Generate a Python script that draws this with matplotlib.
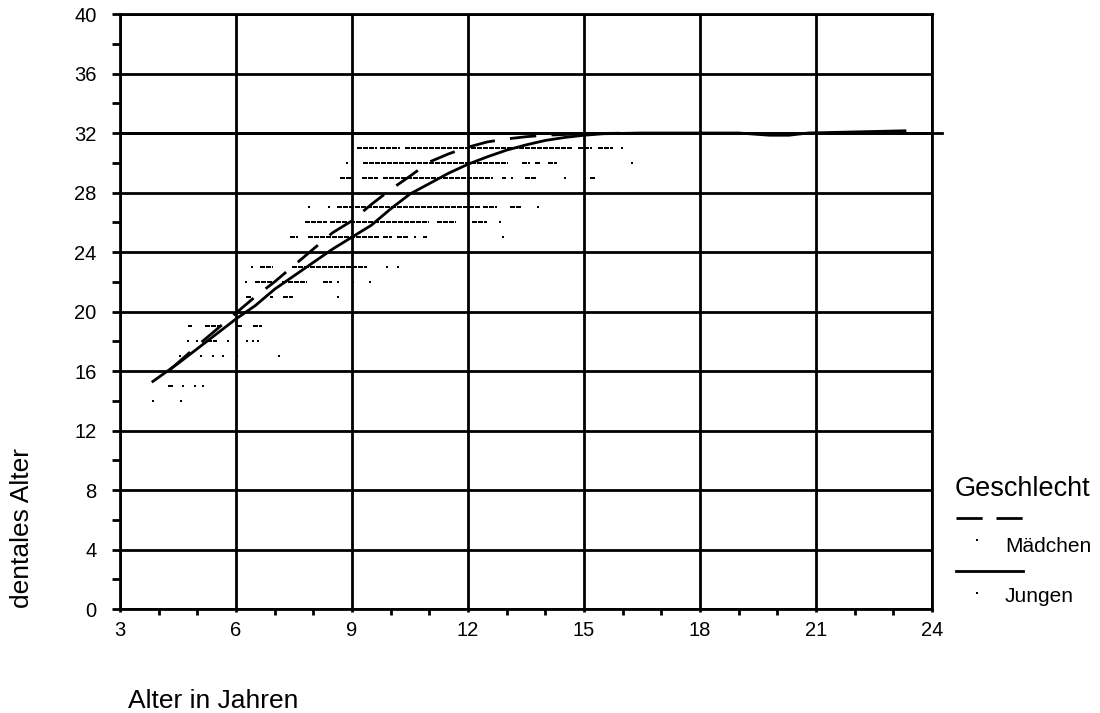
import matplotlib
matplotlib.use("Agg")
import matplotlib.pyplot as plt
from matplotlib.lines import Line2D
from matplotlib.ticker import MultipleLocator

plt.rcParams['font.family'] = ['Liberation Sans', 'DejaVu Sans']

# mittlere Kurven: dentales Alter ueber Lebensalter
maedchen_x = [4.3, 5.0, 5.5, 6.0, 6.5, 7.0, 7.5, 8.0, 8.5, 9.0, 9.5, 10.0, 10.5,
              11.0, 11.5, 12.0, 12.5, 13.0, 13.5, 14.0, 15.0, 16.3]
maedchen_y = [16.1, 17.7, 18.8, 19.9, 21.0, 22.0, 23.1, 24.2, 25.3, 26.1, 27.2, 28.2, 29.1,
              30.05, 30.6, 31.05, 31.4, 31.6, 31.75, 31.85, 31.95, 32.0]

jungen_x = [3.85, 4.5, 5.0, 5.5, 6.0, 6.5, 7.0, 7.5, 8.0, 8.5, 9.0, 9.5, 10.0, 10.5,
            11.0, 11.5, 12.0, 12.5, 13.0, 13.5, 14.0, 14.5, 15.0, 15.5, 16.5, 19.0,
            19.8, 20.3, 20.8, 23.3]
jungen_y = [15.3, 16.5, 17.5, 18.5, 19.5, 20.4, 21.5, 22.4, 23.3, 24.2, 25.0, 25.8, 26.9, 27.9,
            28.6, 29.3, 29.9, 30.4, 30.85, 31.2, 31.5, 31.7, 31.85, 31.95, 32.0, 32.0,
            31.85, 31.85, 32.0, 32.15]

# Einzelwerte: je dentalem Alter die Bereiche (von, bis) in Jahren, in denen Punkte liegen
dot_levels = [14, 15, 17, 18, 19, 21, 22, 23, 25, 26, 27, 29, 30, 31]
dot_runs = [
    [(3.85, 3.85), (4.58, 4.58)],
    [(4.24, 4.37), (4.63, 4.63), (4.94, 4.94), (5.15, 5.15)],
    [(4.55, 4.55), (5.1, 5.1), (5.4, 5.4), (5.66, 5.66), (6.03, 6.03), (7.1, 7.1)],
    [(4.76, 4.76), (4.99, 4.99), (5.25, 5.5), (5.8, 5.8), (6.28, 6.28), (6.44, 6.44), (6.57, 6.57)],
    [(4.76, 4.86), (5.2, 5.66), (6.03, 6.18), (6.44, 6.67)],
    [(6.26, 6.41), (6.88, 6.96), (7.21, 7.47), (8.64, 8.64)],
    [(6.26, 6.26), (6.49, 7.0), (7.19, 7.83), (8.25, 8.48), (8.64, 8.64), (9.03, 9.03), (9.47, 9.47)],
    [(6.41, 6.41), (6.62, 6.96), (7.45, 9.39), (9.9, 9.9), (10.19, 10.19)],
    [(7.4, 7.6), (7.86, 9.72), (9.8, 10.03), (10.16, 10.45), (10.63, 10.63), (10.84, 10.94), (12.9, 12.9)],
    [(7.78, 8.35), (8.43, 8.9), (8.95, 11.0), (11.2, 11.7), (12.1, 12.5), (12.83, 12.83)],
    [(7.89, 7.89), (8.4, 8.4), (8.61, 12.3), (12.4, 12.75), (13.08, 13.4), (13.8, 13.8)],
    [(8.69, 9.0), (9.26, 9.67), (9.8, 12.65), (12.87, 12.97), (13.15, 13.15), (13.47, 13.78),
     (14.5, 14.5), (15.15, 15.28)],
    [(8.87, 8.87), (9.28, 13.03), (13.4, 13.6), (13.73, 13.9), (14.07, 14.3), (16.24, 16.24)],
    [(9.13, 9.65), (9.72, 10.24), (10.37, 14.7), (14.85, 15.2), (15.35, 15.75), (15.95, 16.0)],
]

x_ticks = [3, 6, 9, 12, 15, 18, 21, 24]
y_ticks = [0, 4, 8, 12, 16, 20, 24, 28, 32, 36, 40]
ref_level = 32

fig = plt.figure(figsize=(11, 7.13), dpi=100)
ax = fig.add_axes([0.10909, 0.14586, 0.73818, 0.83450])

# Punkte (ohne Kantenglaettung, damit sie schwarz bleiben)
for lev, runs in zip(dot_levels, dot_runs):
    for x0, x1 in runs:
        if x0 == x1:
            ax.plot([x0], [lev], 's', color='k', ms=1.8, mew=0, antialiased=False)
        else:
            ax.plot([x0, x1], [lev, lev], color='k', lw=1.6, antialiased=False,
                    linestyle=(0, (2.2, 0.6)), solid_capstyle='butt')

ax.plot(maedchen_x, maedchen_y, color='k', lw=2.0, dashes=(9.5, 5.5))
ax.plot(jungen_x, jungen_y, color='k', lw=2.0)

# Linie bei 32 ragt etwas ueber den Rahmen hinaus
ax.plot([x_ticks[0], x_ticks[-1] + 0.25], [ref_level, ref_level], color='k', lw=2.0, clip_on=False)

ax.set_xlim(x_ticks[0], x_ticks[-1])
ax.set_ylim(y_ticks[0], y_ticks[-1])
ax.set_xticks(x_ticks)
ax.set_yticks(y_ticks)
ax.xaxis.set_minor_locator(MultipleLocator(1))
ax.yaxis.set_minor_locator(MultipleLocator(2))
ax.grid(which='major', color='k', lw=2.0)
for s in ax.spines.values():
    s.set_linewidth(2.0)

ax.tick_params(axis='both', which='both', direction='out', color='k', width=2.0, labelsize=14.5)
ax.tick_params(axis='y', which='both', length=6, pad=11)
ax.tick_params(axis='x', which='major', length=2.5, pad=6)
ax.tick_params(axis='x', which='minor', length=4.5)

fig.text(0.1164, 0.007, 'Alter in Jahren', fontsize=19, ha='left', va='baseline')
fig.text(0.02, 0.1473, 'dentales Alter', fontsize=19, rotation=90, ha='center', va='bottom')

# Legende von Hand
fig.text(0.8682, 0.3044, 'Geschlecht', fontsize=19.5, ha='left', va='baseline')
fig.add_artist(Line2D([956 / 1100, 1023 / 1100], [0.2735, 0.2735], color='k', lw=2.0,
                      dashes=(9.4, 5.0), transform=fig.transFigure))
fig.add_artist(Line2D([977 / 1100], [0.2426], marker='s', ms=1.8, mew=0, color='k',
                      antialiased=False, transform=fig.transFigure))
fig.text(0.9136, 0.2258, 'Mädchen', fontsize=15, ha='left', va='baseline')
fig.add_artist(Line2D([956 / 1100, 1023 / 1100], [0.1991, 0.1991], color='k', lw=2.0,
                      transform=fig.transFigure))
fig.add_artist(Line2D([977 / 1100], [0.1683], marker='s', ms=1.8, mew=0, color='k',
                      antialiased=False, transform=fig.transFigure))
fig.text(0.9136, 0.1557, 'Jungen', fontsize=15, ha='left', va='baseline')

fig.savefig('out.png', dpi=100)
